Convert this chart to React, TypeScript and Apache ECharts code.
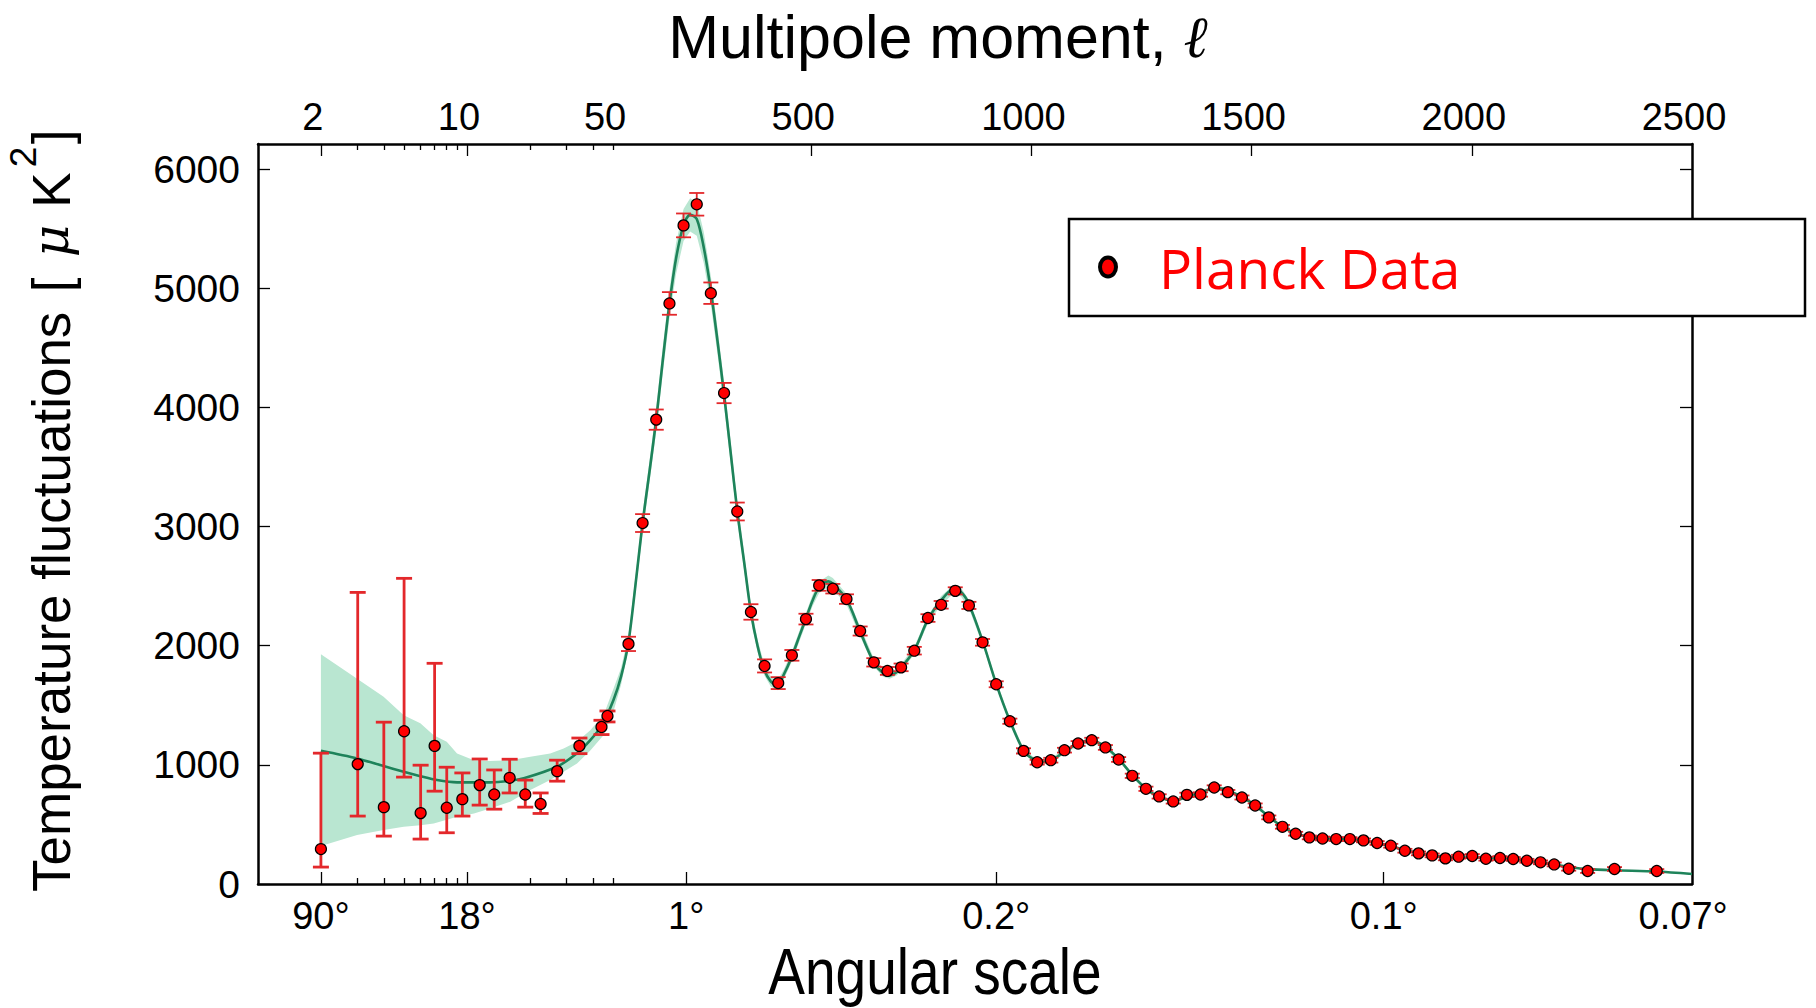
import React, { useEffect, useRef } from "react";
import * as echarts from "echarts";

// ---------- data (multipole l, D_l in uK^2) ----------
const LOW_L = [2, 3, 4, 5, 6, 7, 8, 9.5, 11.5, 13.5, 16, 19, 22.5, 27, 34.5, 44, 47];
const LOW_D = [293, 1006, 645, 1282, 595, 1159, 640, 712, 830, 751, 891, 751, 672, 947, 1159, 1318, 1410];
const LOW_ERR_LO = [142, 570, 402, 897, 377, 779, 430, 570, 662, 628, 764, 645, 592, 863, 1094, 1254, 1360];
const LOW_ERR_HI = [1098, 2447, 1358, 2565, 997, 1852, 980, 932, 1049, 957, 1047, 872, 764, 1039, 1225, 1374, 1452];

const HIGH_L = [85, 117, 148, 178, 210, 240, 272, 302, 332, 363,
  394, 425, 456, 488, 518, 549, 580, 611, 642, 673,
  704, 734, 765, 795, 827, 858, 889, 920, 951, 982,
  1013, 1044, 1075, 1106, 1137, 1168, 1198, 1229, 1260, 1290,
  1322, 1353, 1384, 1415, 1446, 1478, 1508, 1539, 1570, 1600,
  1631, 1661, 1692, 1723, 1754, 1785, 1816, 1848, 1879, 1910,
  1940, 1970, 2001, 2032, 2064, 2094, 2125, 2156, 2187, 2220,
  2263, 2324, 2420];
const HIGH_D = [2015, 3029, 3897, 4872, 5527, 5704, 4958, 4120, 3126, 2283,
  1830, 1686, 1919, 2223, 2506, 2478, 2391, 2123, 1860, 1788,
  1818, 1958, 2232, 2343, 2460, 2338, 2028, 1676, 1366, 1117,
  1022, 1039, 1123, 1179, 1207, 1146, 1045, 908, 799, 735,
  693, 748, 751, 810, 771, 726, 659, 559, 480, 422,
  391, 382, 377, 377, 366, 344, 321, 279, 257, 240,
  215, 229, 235, 212, 218, 210, 195, 182, 164, 128,
  109, 126, 109];
const HIGH_ERR = [60, 75, 85, 95, 100, 95, 90, 85, 75, 65,
  55, 50, 45, 45, 45, 40, 40, 38, 35, 33,
  32, 32, 32, 32, 30, 30, 28, 25, 22, 22,
  20, 20, 20, 20, 20, 20, 20, 18, 18, 18,
  18, 18, 18, 18, 18, 17, 17, 16, 16, 16,
  16, 16, 16, 16, 16, 16, 16, 16, 16, 16,
  16, 16, 16, 16, 16, 16, 16, 16, 16, 16,
  16, 16, 16];

// best-fit model curve
const THEORY_L = [2, 2.98, 3.99, 4.98, 5.98, 7.18, 8.96, 12.9, 16.1, 18.7,
  26.9, 33.6, 38.9, 44.3, 50.9, 68, 85, 103, 117, 133,
  148, 163, 178, 193, 210, 225, 240, 256, 272, 287,
  302, 317, 332, 348, 363, 378, 393, 408, 423, 438,
  456, 473, 488, 503, 518, 539, 549, 580, 611, 642,
  663, 678, 693, 704, 734, 765, 795, 822, 840, 858,
  889, 920, 951, 982, 1003, 1023, 1044, 1075, 1106, 1137,
  1168, 1198, 1229, 1260, 1290, 1322, 1353, 1384, 1415, 1433,
  1446, 1478, 1508, 1539, 1570, 1600, 1631, 1661, 1692, 1723,
  1754, 1785, 1816, 1848, 1879, 1910, 1940, 1970, 2001, 2032,
  2064, 2094, 2125, 2156, 2187, 2220, 2263, 2324, 2420, 2500];
const THEORY_D = [1118, 1054, 990, 942, 905, 872, 853, 853, 867, 887,
  984, 1097, 1208, 1334, 1544, 1740, 2030, 2580, 3030, 3470,
  3900, 4400, 4870, 5250, 5530, 5615, 5580, 5340, 4980, 4560,
  4110, 3620, 3130, 2690, 2280, 2000, 1800, 1700, 1665, 1760,
  1910, 2080, 2230, 2380, 2490, 2540, 2520, 2390, 2120, 1860,
  1770, 1750, 1775, 1815, 1960, 2220, 2380, 2470, 2450, 2350,
  2040, 1680, 1370, 1120, 1050, 1025, 1035, 1110, 1180, 1205,
  1150, 1050, 915, 800, 730, 700, 730, 770, 800, 800,
  785, 730, 660, 565, 480, 425, 395, 382, 378, 375,
  362, 342, 316, 285, 260, 240, 228, 224, 222, 219,
  214, 206, 195, 180, 162, 143, 125, 115, 105, 84];
// half width of the cosmic-variance band (null where the low-l band below is used)
const BAND_HALF = [null, null, null, null, null, null, null, null, null, null,
  null, null, null, null, 95, 70, 60, 70, 80, 90,
  100, 110, 120, 130, 135, 140, 140, 130, 120, 110,
  100, 90, 80, 70, 60, 52, 46, 42, 40, 40,
  42, 44, 45, 47, 48, 48, 48, 45, 40, 34,
  30, 28, 28, 29, 31, 34, 36, 37, 37, 35,
  31, 27, 24, 21, 20, 20, 20, 20, 19, 19,
  18, 17, 15, 14, 13, 12, 12, 12, 12, 12,
  12, 11, 10, 9, 8, 8, 7, 7, 7, 7,
  6, 6, 6, 6, 5, 5, 5, 5, 5, 5,
  5, 5, 5, 5, 5, 5, 5, 5, 5, 5];
const LOW_BAND_L = [2, 2.98, 3.99, 4.98, 5.98, 6.93, 8.0, 8.96, 10.8, 12.9, 16.1, 20.1, 25.0, 29.0, 33.6, 38.9, 45.1];
const LOW_BAND_HI = [1927, 1723, 1572, 1416, 1348, 1249, 1194, 1095, 1039, 1033, 1039, 1067, 1095, 1137, 1193, 1290, 1420];
const LOW_BAND_LO = [318, 411, 453, 480, 494, 508, 540, 564, 592, 634, 690, 788, 872, 941, 1011, 1120, 1250];

// axis ticks / labels
const Y_TICKS = [0, 1000, 2000, 3000, 4000, 5000, 6000];
const TOP_LABEL_L = [2, 10, 50, 500, 1000, 1500, 2000, 2500];
const TOP_LABELS = ["2", "10", "50", "500", "1000", "1500", "2000", "2500"];
const TOP_MAJOR_TICK_L = [2, 10, 500, 1000, 1500, 2000];
const TOP_MINOR_TICK_L = [3, 4, 5, 6, 7, 8, 9, 20, 30, 40, 50];
const BOTTOM_LABEL_L = [2, 10, 216, 920, 1800, 2480];
const BOTTOM_LABELS = ["90°", "18°", "1°", "0.2°", "0.1°", "0.07°"];
const BOTTOM_MAJOR_TICK_L = [2, 10, 216, 920, 1800];
const BOTTOM_MINOR_TICK_L = [3, 4, 5, 6, 7, 8, 9, 20, 30, 40, 50];

// ---------- hybrid axis: log below l=50, linear above ----------
const JOIN = 50;
const UNITS_PER_DECADE = 474.6;
const toU = (l: number) => (l >= JOIN ? l : JOIN + UNITS_PER_DECADE * Math.log10(l / JOIN));
const X_MIN = toU(1);
const X_MAX = 2500;
const Y_MAX = 6210;

const FONT_SANS = "'Liberation Sans', Arial, sans-serif";
const RED = "#ff0000";
const ERR_RED = "#e3282b";
const GREEN = "#1e835a";
const BAND = "#b9e6d1";

const lookup = (ls: number[], labels: string[]) => (v: number) => {
  for (let i = 0; i < ls.length; i++) if (Math.abs(toU(ls[i]) - v) < 1e-6) return labels[i];
  return "";
};

export default function App() {
  const ref = useRef<HTMLDivElement>(null);
  useEffect(() => {
    const chart = echarts.init(ref.current!, null, { renderer: "svg" });

    const upper: number[][] = LOW_BAND_L.map((l, i) => [l, LOW_BAND_HI[i]]);
    const lower: number[][] = LOW_BAND_L.map((l, i) => [l, LOW_BAND_LO[i]]);
    THEORY_L.forEach((l, i) => {
      const h = BAND_HALF[i];
      if (h !== null) {
        upper.push([l, THEORY_D[i] + (h as number)]);
        lower.push([l, THEORY_D[i] - (h as number)]);
      }
    });
    const bandPoly = upper.concat(lower.slice().reverse());

    const axisLineStyle = { color: "#000", width: 2.5 };
    const tickStyle = { color: "#000", width: 1.3 };

    const errRender = (lw: number, w: number) => (params: any, api: any) => {
      const x = api.value(0);
      const a = api.coord([x, api.value(1)]);
      const b = api.coord([x, api.value(2)]);
      const style = { stroke: ERR_RED, lineWidth: lw, fill: null };
      return {
        type: "group",
        children: [
          { type: "line", shape: { x1: a[0], y1: a[1], x2: b[0], y2: b[1] }, style },
          { type: "line", shape: { x1: a[0] - w, y1: a[1], x2: a[0] + w, y2: a[1] }, style },
          { type: "line", shape: { x1: b[0] - w, y1: b[1], x2: b[0] + w, y2: b[1] }, style },
        ],
      };
    };

    const xBase = (position: string) => ({
      type: "value",
      position,
      min: X_MIN,
      max: X_MAX,
      splitLine: { show: false },
      axisLine: { show: true, onZero: false, lineStyle: axisLineStyle },
    });

    const option: any = {
      animation: false,
      backgroundColor: "#fff",
      grid: { left: 258, right: 124, top: 144, bottom: 124, containLabel: false },
      xAxis: [
        {
          ...xBase("bottom"),
          axisTick: { show: true, inside: true, length: 12, customValues: BOTTOM_MAJOR_TICK_L.map(toU), lineStyle: tickStyle },
          axisLabel: {
            show: true,
            customValues: BOTTOM_LABEL_L.map(toU),
            formatter: lookup(BOTTOM_LABEL_L, BOTTOM_LABELS),
            fontFamily: FONT_SANS,
            fontSize: 38,
            color: "#000",
            margin: 32,
            verticalAlign: "middle",
          },
        },
        {
          ...xBase("bottom"),
          axisLine: { show: false, onZero: false },
          axisTick: { show: true, inside: true, length: 6, customValues: BOTTOM_MINOR_TICK_L.map(toU), lineStyle: tickStyle },
          axisLabel: { show: false },
        },
        {
          ...xBase("top"),
          axisTick: { show: true, inside: true, length: 12, customValues: TOP_MAJOR_TICK_L.map(toU), lineStyle: tickStyle },
          axisLabel: {
            show: true,
            customValues: TOP_LABEL_L.map(toU),
            formatter: lookup(TOP_LABEL_L, TOP_LABELS),
            fontFamily: FONT_SANS,
            fontSize: 38,
            color: "#000",
            margin: 27,
            verticalAlign: "middle",
            padding: [0, 16, 0, 0],
          },
        },
        {
          ...xBase("top"),
          axisLine: { show: false, onZero: false },
          axisTick: { show: true, inside: true, length: 6, customValues: TOP_MINOR_TICK_L.map(toU), lineStyle: tickStyle },
          axisLabel: { show: false },
        },
      ],
      yAxis: [
        {
          type: "value",
          position: "left",
          min: 0,
          max: Y_MAX,
          splitLine: { show: false },
          axisLine: { show: true, onZero: false, lineStyle: axisLineStyle },
          axisTick: { show: true, inside: true, length: 12, customValues: Y_TICKS, lineStyle: tickStyle },
          axisLabel: {
            show: true,
            customValues: Y_TICKS,
            formatter: (v: number) => String(v),
            fontFamily: FONT_SANS,
            fontSize: 39,
            color: "#000",
            margin: 18,
          },
        },
        {
          type: "value",
          position: "right",
          min: 0,
          max: Y_MAX,
          splitLine: { show: false },
          axisLine: { show: true, onZero: false, lineStyle: axisLineStyle },
          axisTick: { show: true, inside: true, length: 12, customValues: Y_TICKS, lineStyle: tickStyle },
          axisLabel: { show: false },
        },
      ],
      series: [
        {
          name: "band",
          type: "custom",
          xAxisIndex: 0,
          yAxisIndex: 0,
          silent: true,
          data: [[toU(2), 0]],
          renderItem: (params: any, api: any) => ({
            type: "polygon",
            shape: { points: bandPoly.map(([l, v]) => api.coord([toU(l), v])) },
            style: { fill: BAND, stroke: null },
          }),
          z: 1,
        },
        {
          name: "model",
          type: "line",
          xAxisIndex: 0,
          yAxisIndex: 0,
          data: THEORY_L.map((l, i) => [toU(l), THEORY_D[i]]),
          showSymbol: false,
          smooth: 0.3,
          lineStyle: { color: GREEN, width: 2.6 },
          silent: true,
          z: 2,
        },
        {
          name: "errLow",
          type: "custom",
          xAxisIndex: 0,
          yAxisIndex: 0,
          silent: true,
          encode: { x: 0, y: [1, 2] },
          data: LOW_L.map((l, i) => [toU(l), LOW_ERR_LO[i], LOW_ERR_HI[i]]),
          renderItem: errRender(2.8, 8),
          z: 3,
        },
        {
          name: "errHigh",
          type: "custom",
          xAxisIndex: 0,
          yAxisIndex: 0,
          silent: true,
          encode: { x: 0, y: [1, 2] },
          data: HIGH_L.map((l, i) => [toU(l), HIGH_D[i] - HIGH_ERR[i], HIGH_D[i] + HIGH_ERR[i]]),
          renderItem: errRender(1.8, 7.5),
          z: 3,
        },
        {
          name: "Planck Data",
          type: "scatter",
          xAxisIndex: 0,
          yAxisIndex: 0,
          symbol: "circle",
          symbolSize: 11,
          data: LOW_L.map((l, i) => [toU(l), LOW_D[i]]).concat(HIGH_L.map((l, i) => [toU(l), HIGH_D[i]])),
          itemStyle: { color: RED, borderColor: "#000", borderWidth: 1.2, opacity: 1 },
          z: 4,
        },
      ],
      graphic: [
        {
          type: "text",
          x: 938,
          y: 37,
          style: {
            text: "{a|Multipole moment, }{b|ℓ}",
            align: "center",
            verticalAlign: "middle",
            rich: {
              a: { fontFamily: FONT_SANS, fontSize: 61, fill: "#000" },
              b: { fontFamily: "'DejaVu Serif', serif", fontStyle: "italic", fontSize: 58, fill: "#000" },
            },
          },
        },
        {
          type: "text",
          x: 935,
          y: 972,
          scaleX: 0.86,
          style: { text: "Angular scale", fontFamily: FONT_SANS, fontSize: 64, fill: "#000", align: "center", verticalAlign: "middle" },
        },
        {
          type: "text",
          x: 51,
          y: 892,
          rotation: Math.PI / 2,
          style: { text: "Temperature fluctuations", fontFamily: FONT_SANS, fontSize: 53, fill: "#000", align: "left", verticalAlign: "middle" },
        },
        {
          type: "text",
          x: 51,
          y: 285,
          rotation: Math.PI / 2,
          style: { text: "[", fontFamily: FONT_SANS, fontSize: 53, fill: "#000", align: "center", verticalAlign: "middle" },
        },
        {
          type: "text",
          x: 51,
          y: 241,
          rotation: Math.PI / 2,
          style: { text: "μ", fontFamily: "'DejaVu Serif', serif", fontStyle: "italic", fontSize: 50, fill: "#000", align: "center", verticalAlign: "middle" },
        },
        {
          type: "text",
          x: 51,
          y: 190,
          rotation: Math.PI / 2,
          style: { text: "K", fontFamily: FONT_SANS, fontSize: 53, fill: "#000", align: "center", verticalAlign: "middle" },
        },
        {
          type: "text",
          x: 23,
          y: 157,
          rotation: Math.PI / 2,
          style: { text: "2", fontFamily: FONT_SANS, fontSize: 37, fill: "#000", align: "center", verticalAlign: "middle" },
        },
        {
          type: "text",
          x: 51,
          y: 137,
          rotation: Math.PI / 2,
          style: { text: "]", fontFamily: FONT_SANS, fontSize: 53, fill: "#000", align: "center", verticalAlign: "middle" },
        },
        {
          type: "rect",
          z: 100,
          shape: { x: 1069, y: 219, width: 736, height: 97 },
          style: { fill: "#fff", stroke: "#000", lineWidth: 2.5 },
        },
        {
          type: "ellipse",
          z: 101,
          shape: { cx: 1108, cy: 267, rx: 8, ry: 9.5 },
          style: { fill: RED, stroke: "#000", lineWidth: 4 },
        },
        {
          type: "text",
          z: 101,
          x: 1159,
          y: 267,
          style: { text: "Planck Data", fontFamily: "'Open Sans', sans-serif", fontSize: 55, fill: RED, align: "left", verticalAlign: "middle" },
        },
      ],
    };

    chart.setOption(option);
    return () => chart.dispose();
  }, []);

  return (
    <div
      ref={ref}
      style={{ position: "fixed", left: 0, top: 0, width: 1816, height: 1008, background: "#fff" }}
    />
  );
}
